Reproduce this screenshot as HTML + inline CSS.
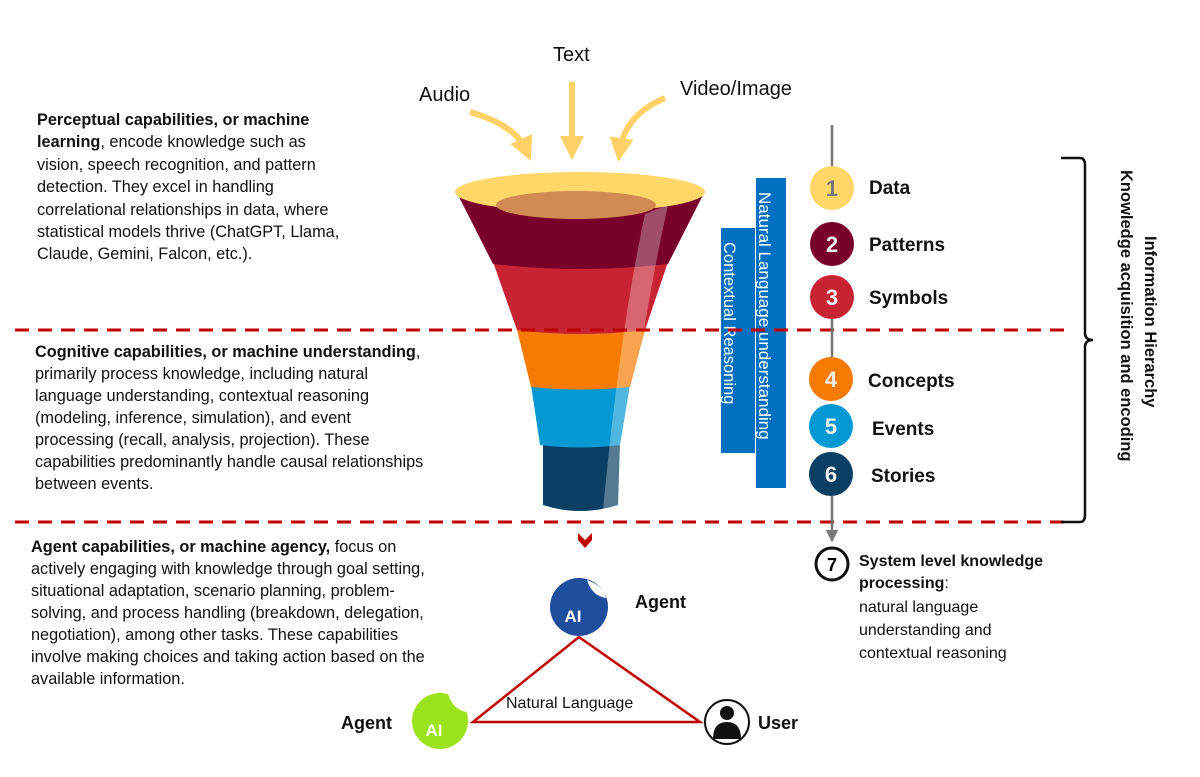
<!DOCTYPE html>
<html><head><meta charset="utf-8"><style>
body{margin:0;background:#fff;}
svg{display:block;font-family:"Liberation Sans",sans-serif;}
</style></head><body>
<svg width="1200" height="777" viewBox="0 0 1200 777">
<defs>
<marker id="ya" markerWidth="4" markerHeight="4" refX="2" refY="2" orient="auto" markerUnits="strokeWidth"><path d="M0,0 L4,2 L0,4 z" fill="#ffd166"/></marker>
<marker id="ga" markerWidth="5" markerHeight="5" refX="4" refY="2.5" orient="auto" markerUnits="strokeWidth"><path d="M0,0 L5,2.5 L0,5 z" fill="#777"/></marker>
</defs>
<text x="553" y="61" font-size="20" fill="#111">Text</text>
<text x="419" y="101" font-size="20" fill="#111">Audio</text>
<text x="680" y="95" font-size="20" fill="#111">Video/Image</text>
<g stroke="#ffd166" stroke-width="6" fill="none">
<path d="M572,82 L572,148" marker-end="url(#ya)"/>
<path d="M470,112 Q515,125 526,150" marker-end="url(#ya)"/>
<path d="M665,98 Q625,115 620,150" marker-end="url(#ya)"/>
</g>
<g font-size="16.3" fill="#111">
<text x="37" y="125"><tspan font-weight="bold">Perceptual capabilities, or machine</tspan></text>
<text x="37" y="147"><tspan font-weight="bold">learning</tspan>, encode knowledge such as</text>
<text x="37" y="170">vision, speech recognition, and pattern</text>
<text x="37" y="192">detection. They excel in handling</text>
<text x="37" y="215">correlational relationships in data, where</text>
<text x="37" y="237">statistical models thrive (ChatGPT, Llama,</text>
<text x="37" y="259">Claude, Gemini, Falcon, etc.).</text>
<text x="35" y="357"><tspan font-weight="bold">Cognitive capabilities, or machine understanding</tspan>,</text>
<text x="35" y="379">primarily process knowledge, including natural</text>
<text x="35" y="401">language understanding, contextual reasoning</text>
<text x="35" y="423">(modeling, inference, simulation), and event</text>
<text x="35" y="445">processing (recall, analysis, projection). These</text>
<text x="35" y="467">capabilities predominantly handle causal relationships</text>
<text x="35" y="489">between events.</text>
<text x="31" y="552"><tspan font-weight="bold">Agent capabilities, or machine agency,</tspan> focus on</text>
<text x="31" y="574">actively engaging with knowledge through goal setting,</text>
<text x="31" y="596">situational adaptation, scenario planning, problem-</text>
<text x="31" y="618">solving, and process handling (breakdown, delegation,</text>
<text x="31" y="640">negotiation), among other tasks. These capabilities</text>
<text x="31" y="662">involve making choices and taking action based on the</text>
<text x="31" y="684">available information.</text>
</g>
<path d="M543,443 L620,443 L618,505 Q580,517 543,505 Z" fill="#0b3f63"/>
<path d="M531,385 L630,385 L620,445 Q580,450 540,445 Z" fill="#0599d4"/>
<path d="M517,330 L645,330 L630,387 Q580,392 531,387 Z" fill="#f77b03"/>
<path d="M493,262 Q580,272 668,262 L645,330 Q580,338 517,330 Z" fill="#c82333"/>
<path d="M458,195 L703,195 L668,264 Q580,274 493,264 Z" fill="#78002b"/>
<ellipse cx="580" cy="192" rx="125" ry="20" fill="#fed768"/>
<ellipse cx="576" cy="205" rx="80" ry="14" fill="#d08a52"/>
<path d="M645,214 L668,205 Q640,330 620,508 L603,510 Q620,330 645,214 Z" fill="#fff" opacity="0.3"/>
<rect x="721" y="228" width="34" height="225" fill="#0270c0"/>
<rect x="756" y="178" width="30" height="310" fill="#0270c0"/>
<text transform="translate(724,242) rotate(90)" font-size="16.5" fill="#fff">Contextual Reasoning</text>
<text transform="translate(759,192) rotate(90)" font-size="17" fill="#fff">Natural Language understanding</text>
<g stroke="#c00000" stroke-width="3" stroke-dasharray="14,9">
<line x1="15" y1="330" x2="1066" y2="330"/>
<line x1="15" y1="522" x2="1066" y2="522"/>
</g>
<path d="M578,533 L585,540 L592,533 L592,540 L585,548 L578,540 Z" fill="#c00000"/>
<g stroke="#777" stroke-width="2.5">
<line x1="832" y1="125" x2="832" y2="166"/>
<line x1="832" y1="319" x2="832" y2="357"/>
<line x1="832" y1="496" x2="832" y2="540" marker-end="url(#ga)"/>
</g>
<g font-size="22" font-weight="bold" text-anchor="middle" fill="#f0f0f0">
<circle cx="832" cy="188" r="22" fill="#fed768"/><text x="832" y="196" fill="#777">1</text>
<circle cx="832" cy="244" r="22" fill="#78002b"/><text x="832" y="252">2</text>
<circle cx="832" cy="297" r="22" fill="#c82333"/><text x="832" y="305">3</text>
<circle cx="831" cy="379" r="22" fill="#f77b03"/><text x="831" y="387">4</text>
<circle cx="831" cy="426" r="22" fill="#0599d4"/><text x="831" y="434">5</text>
<circle cx="831" cy="474" r="22" fill="#0b3f63"/><text x="831" y="482">6</text>
</g>
<g font-size="19" font-weight="bold" fill="#111">
<text x="869" y="194">Data</text>
<text x="869" y="251">Patterns</text>
<text x="869" y="304">Symbols</text>
<text x="868" y="387">Concepts</text>
<text x="872" y="435">Events</text>
<text x="871" y="482">Stories</text>
</g>
<circle cx="832" cy="564" r="16" fill="#fff" stroke="#111" stroke-width="3"/>
<text x="832" y="571" font-size="18" font-weight="bold" text-anchor="middle">7</text>
<g font-size="16" fill="#111">
<text x="859" y="566" font-weight="bold">System level knowledge</text>
<text x="859" y="588"><tspan font-weight="bold">processing</tspan>:</text>
<text x="859" y="612">natural language</text>
<text x="859" y="635">understanding and</text>
<text x="859" y="658">contextual reasoning</text>
</g>
<path d="M1061,158 L1080,158 Q1085,158 1085,165 L1085,333 Q1085,340 1093,340 Q1085,340 1085,347 L1085,515 Q1085,522 1080,522 L1061,522" fill="none" stroke="#111" stroke-width="2.5"/>
<text transform="translate(1145,236) rotate(90)" font-size="16.5" font-weight="bold" fill="#111">Information Hierarchy</text>
<text transform="translate(1121,170) rotate(90)" font-size="16.5" font-weight="bold" fill="#111">Knowledge acquisition and encoding</text>
<path d="M579,637 L473,722 L700,722 Z" fill="none" stroke="#c00000" stroke-width="2.5"/>
<text x="506" y="708" font-size="16" fill="#111">Natural Language</text>
<circle cx="579" cy="607" r="29" fill="#1f4e9c"/>
<path d="M587,580 Q604,586 606,598 Q592,596 587,580 Z" fill="#fff"/>
<text x="573" y="622" font-size="17" font-weight="bold" fill="#fff" text-anchor="middle">AI</text>
<text x="635" y="608" font-size="18" font-weight="bold" fill="#111">Agent</text>
<circle cx="440" cy="721" r="28" fill="#9be31c"/>
<path d="M448,694 Q465,700 467,712 Q453,710 448,694 Z" fill="#fff"/>
<text x="434" y="736" font-size="17" font-weight="bold" fill="#fff" text-anchor="middle">AI</text>
<text x="341" y="729" font-size="18" font-weight="bold" fill="#111">Agent</text>
<circle cx="727" cy="722" r="22" fill="#fff" stroke="#111" stroke-width="2"/>
<circle cx="727" cy="713" r="7" fill="#111"/>
<path d="M713,739 Q713,722 727,722 Q741,722 741,739 Z" fill="#111"/>
<text x="758" y="729" font-size="18" font-weight="bold" fill="#111">User</text>
</svg>
</body></html>
